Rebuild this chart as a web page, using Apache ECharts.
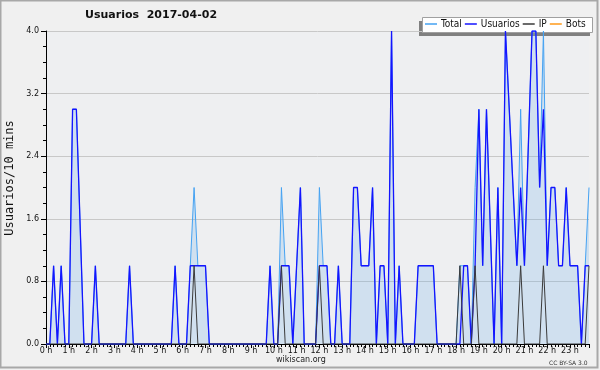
<!DOCTYPE html>
<html><head><meta charset="utf-8">
<script src="https://cdn.jsdelivr.net/npm/echarts@6/dist/echarts.min.js"></script>
<style>html,body{margin:0;padding:0;background:#fff}#c{width:600px;height:370px}</style>
</head><body><div id="c"></div>
<script>
// Data: [10-minute slot index, value] vertices (slot 6 = 1 h)
const chartTitle = 'Usuarios  2017-04-02';
const yAxisTitle = 'Usuarios/10 mins';
const seriesNames = ['Total', 'Usuarios', 'IP', 'Bots'];
const total = [[0,0],[1,0],[2,1],[3,0],[4,1],[5,0],[6,0],[7,3],[8,3],[10,0],[12,0],[13,1],[14,0],[21,0],[22,1],[23,0],[33,0],[34,1],[35,0],[37,0],[38,1],[39,2],[40,1],[42,1],[43,0],[58,0],[59,1],[60,0],[61,0],[62,2],[63,1],[64,1],[65,0],[67,2],[68,0],[71,0],[72,2],[73,1],[74,1],[75,0],[76,0],[77,1],[78,0],[80,0],[81,2],[82,2],[83,1],[85,1],[86,2],[87,0],[88,1],[89,1],[90,0],[91,4],[92,0],[93,1],[94,0],[97,0],[98,1],[102,1],[103,0],[108,0],[109,1],[110,1],[111,1],[112,0],[113,2],[114,3],[115,1],[116,3],[118,0],[119,2],[120,0],[121,4],[124,1],[125,3],[126,1],[128,4],[129,4],[130,2],[131,4],[132,1],[133,2],[134,2],[135,1],[136,1],[137,2],[138,1],[140,1],[141,0],[142,1],[143,2]];
const usuarios = [[0,0],[1,0],[2,1],[3,0],[4,1],[5,0],[6,0],[7,3],[8,3],[10,0],[12,0],[13,1],[14,0],[21,0],[22,1],[23,0],[33,0],[34,1],[35,0],[37,0],[38,1],[42,1],[43,0],[58,0],[59,1],[60,0],[61,0],[62,1],[64,1],[65,0],[67,2],[68,0],[71,0],[72,1],[74,1],[75,0],[76,0],[77,1],[78,0],[80,0],[81,2],[82,2],[83,1],[85,1],[86,2],[87,0],[88,1],[89,1],[90,0],[91,4],[92,0],[93,1],[94,0],[97,0],[98,1],[102,1],[103,0],[109,0],[110,1],[111,1],[112,0],[113,1],[114,3],[115,1],[116,3],[118,0],[119,2],[120,0],[121,4],[124,1],[125,2],[126,1],[128,4],[129,4],[130,2],[131,3],[132,1],[133,2],[134,2],[135,1],[136,1],[137,2],[138,1],[140,1],[141,0],[142,1],[143,1]];
const ip = [[0,0],[38,0],[39,1],[40,0],[61,0],[62,1],[63,0],[71,0],[72,1],[73,0],[108,0],[109,1],[110,0],[112,0],[113,1],[114,0],[124,0],[125,1],[126,0],[130,0],[131,1],[132,0],[142,0],[143,1]];
const bots = [];

const colors = {Total: '#45a2f2', Usuarios: '#1414ff', IP: '#3a3a3a', Bots: '#ff9a1a'};
const font = 'DejaVu Sans';

const chart = echarts.init(document.getElementById('c'), null, {renderer: 'canvas'});
chart.setOption({
  animation: false,
  backgroundColor: '#f0f0f0',
  title: {text: chartTitle, left: 85, top: 10, padding: 0,
    textStyle: {fontFamily: font, fontSize: 11, fontWeight: 'bold', color: '#111'}},
  legend: {left: 425, top: 19, padding: 0, itemGap: 3, itemWidth: 12, itemHeight: 1.5,
    icon: 'rect',
    textStyle: {fontFamily: 'DejaVu Sans Condensed, DejaVu Sans', fontSize: 10, color: '#111', padding: [0,0,0,-1]},
    data: seriesNames},
  graphic: [
    {type: 'rect', shape: {x: 0.5, y: 0.5, width: 597, height: 367}, style: {fill: 'none', stroke: '#a8a8a8', lineWidth: 2}, z: 100},
    {type: 'rect', shape: {x: 419, y: 21, width: 171, height: 15}, style: {fill: '#808080'}, z: 0},
    {type: 'rect', shape: {x: 422.5, y: 17.5, width: 170, height: 15}, style: {fill: '#ffffff', stroke: '#a0a0a0', lineWidth: 1}, z: 1},
    {type: 'text', x: 10, y: 178, rotation: Math.PI / 2,
      style: {text: yAxisTitle, font: '12px DejaVu Sans Mono', fill: '#111', align: 'center', verticalAlign: 'middle'}},
    {type: 'text', left: 276, top: 356, style: {text: 'wikiscan.org', font: '8px DejaVu Sans', fill: '#222'}},
    {type: 'text', left: 549, top: 360, style: {text: 'CC BY-SA 3.0', font: '6px DejaVu Sans', fill: '#333'}}
  ],
  grid: {left: 46, right: 11, top: 31, bottom: 26, show: true, backgroundColor: '#eeeff1', borderWidth: 0, outerBoundsMode: 'none', containLabel: false},
  xAxis: {type: 'value', min: 0, max: 143, interval: 6, z: 3,
    axisLine: {lineStyle: {color: '#000', width: 1}},
    axisTick: {length: 4, lineStyle: {color: '#000'}},
    minorTick: {show: true, splitNumber: 6, length: 3, lineStyle: {color: '#000'}},
    splitLine: {show: false},
    axisLabel: {margin: 3, fontFamily: font, fontSize: 8, color: '#111', formatter: v => (v / 6) + ' h'}},
  yAxis: {type: 'value', min: 0, max: 4, interval: 0.8,
    axisLine: {show: true, lineStyle: {color: '#000', width: 1}},
    axisTick: {show: true, length: 5, lineStyle: {color: '#000'}},
    minorTick: {show: true, splitNumber: 4, length: 3, lineStyle: {color: '#000'}},
    splitLine: {show: true, lineStyle: {color: '#c8c8c8', width: 1}},
    axisLabel: {margin: 7, fontFamily: font, fontSize: 8, color: '#111', formatter: v => v.toFixed(1)}},
  series: [
    {name: 'Total', type: 'line', data: total, showSymbol: false, symbol: 'none',
      lineStyle: {color: colors.Total, width: 1}, itemStyle: {color: colors.Total},
      areaStyle: {color: 'rgba(105,176,234,0.32)', origin: 'start'}},
    {name: 'Usuarios', type: 'line', data: usuarios, showSymbol: false, symbol: 'none',
      lineStyle: {color: colors.Usuarios, width: 1.3}, itemStyle: {color: colors.Usuarios}},
    {name: 'IP', type: 'line', data: ip, showSymbol: false, symbol: 'none',
      lineStyle: {color: colors.IP, width: 1}, itemStyle: {color: colors.IP}},
    {name: 'Bots', type: 'line', data: bots, showSymbol: false, symbol: 'none',
      lineStyle: {color: colors.Bots, width: 1}, itemStyle: {color: colors.Bots}}
  ]
});
</script></body></html>
